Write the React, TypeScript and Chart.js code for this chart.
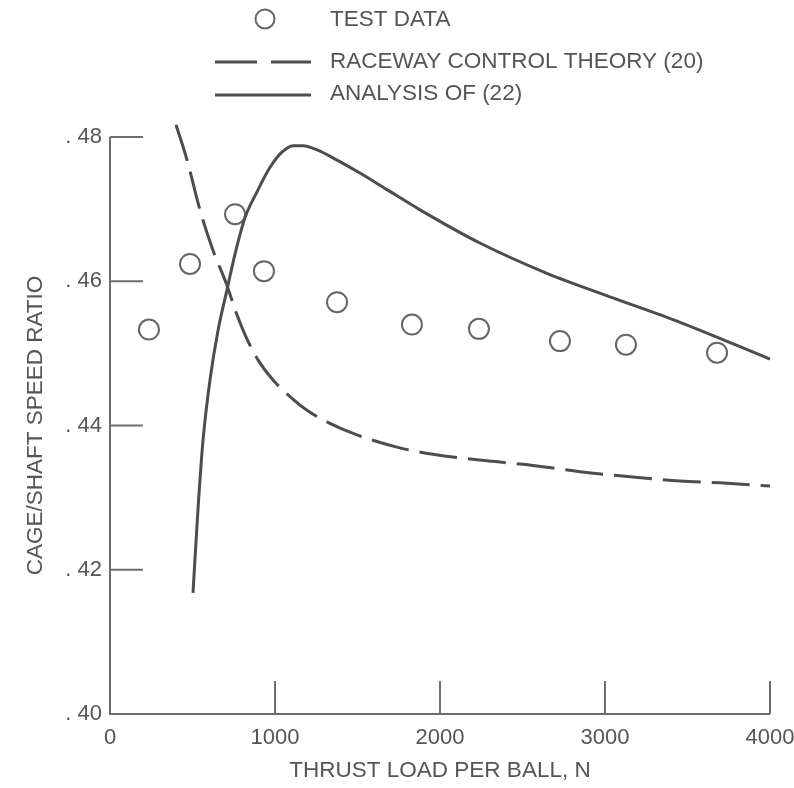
import React, { useEffect, useRef } from 'react';
import { Chart, registerables } from 'chart.js';

Chart.register(...registerables);

// ---- data ----
const testLoad = [236, 485, 758, 933, 1376, 1830, 2236, 2727, 3127, 3679];
const testRatio = [0.4533, 0.4624, 0.4693, 0.4614, 0.4571, 0.454, 0.4534, 0.4517, 0.4512, 0.4501];

const raceLoad = [400, 467, 545, 624, 703, 764, 824, 897, 988, 1091, 1194, 1333, 1485, 1739, 1958, 2285, 2588, 2848, 3152, 3455, 3739, 4000];
const raceRatio = [0.4817, 0.4768, 0.4699, 0.4643, 0.4598, 0.4557, 0.4523, 0.4491, 0.4463, 0.444, 0.4421, 0.4403, 0.4388, 0.437, 0.436, 0.4351, 0.4344, 0.4336, 0.4329, 0.4323, 0.432, 0.4316];

const anaLoad = [503, 533, 564, 606, 655, 709, 758, 818, 891, 970, 1042, 1109, 1170, 1255, 1376, 1515, 1679, 1879, 2242, 2648, 3048, 3455, 4000];
const anaRatio = [0.4168, 0.4283, 0.438, 0.4463, 0.4532, 0.4588, 0.4638, 0.4688, 0.4724, 0.4758, 0.4779, 0.4788, 0.4788, 0.4782, 0.4768, 0.475, 0.4727, 0.4699, 0.4653, 0.4611, 0.4577, 0.4543, 0.4492];

const xTicks = [0, 1000, 2000, 3000, 4000];
const yTicks = [0.4, 0.42, 0.44, 0.46, 0.48];

const legendLabels = ['TEST DATA', 'RACEWAY CONTROL THEORY (20)', 'ANALYSIS OF (22)'];
const xTitle = 'THRUST LOAD PER BALL, N';
const yTitle = 'CAGE/SHAFT SPEED RATIO';

const INK = '#4d4d4d';
const AXIS = '#6e6e6e';
const TEXT = '#555555';
const FONT = '"Liberation Sans", Arial, sans-serif';

const toPts = (xs: number[], ys: number[]) => xs.map((x, i) => ({ x, y: ys[i] }));

const paperPlugin = {
  id: 'paperAxes',
  beforeDatasetsDraw(chart: any) {
    const { ctx, chartArea, scales } = chart;
    const { left, bottom } = chartArea;
    const x = scales.x;
    const y = scales.y;
    ctx.save();
    ctx.strokeStyle = AXIS;
    ctx.lineWidth = 2;
    ctx.beginPath();
    ctx.moveTo(left, y.getPixelForValue(yTicks[yTicks.length - 1]));
    ctx.lineTo(left, bottom);
    ctx.lineTo(x.getPixelForValue(xTicks[xTicks.length - 1]), bottom);
    yTicks.slice(1).forEach((v) => {
      const py = y.getPixelForValue(v);
      ctx.moveTo(left, py);
      ctx.lineTo(left + 33, py);
    });
    xTicks.slice(1).forEach((v) => {
      const px = x.getPixelForValue(v);
      ctx.moveTo(px, bottom);
      ctx.lineTo(px, bottom - 33);
    });
    ctx.stroke();
    ctx.restore();
  },
  afterDraw(chart: any) {
    const { ctx } = chart;
    ctx.save();
    ctx.strokeStyle = '#666';
    ctx.lineWidth = 2;
    ctx.beginPath();
    ctx.arc(265, 19, 9.5, 0, Math.PI * 2);
    ctx.stroke();

    ctx.strokeStyle = INK;
    ctx.lineWidth = 3;
    ctx.setLineDash([42, 14]);
    ctx.beginPath();
    ctx.moveTo(215, 62);
    ctx.lineTo(311, 62);
    ctx.stroke();
    ctx.setLineDash([]);
    ctx.beginPath();
    ctx.moveTo(215, 95);
    ctx.lineTo(311, 95);
    ctx.stroke();

    ctx.fillStyle = TEXT;
    ctx.font = `22.5px ${FONT}`;
    ctx.textAlign = 'left';
    ctx.textBaseline = 'middle';
    ctx.fillText(legendLabels[0], 330, 20);
    ctx.fillText(legendLabels[1], 330, 62);
    ctx.fillText(legendLabels[2], 330, 94);
    ctx.restore();
  },
};

export default function App() {
  const ref = useRef<HTMLCanvasElement | null>(null);

  useEffect(() => {
    if (!ref.current) return;
    const chart = new Chart(ref.current, {
      type: 'line',
      data: {
        datasets: [
          {
            label: legendLabels[1],
            data: toPts(raceLoad, raceRatio),
            borderColor: INK,
            borderWidth: 3,
            borderDash: [38, 11],
            pointRadius: 0,
            cubicInterpolationMode: 'monotone',
            fill: false,
            clip: false,
          } as any,
          {
            label: legendLabels[2],
            data: toPts(anaLoad, anaRatio),
            borderColor: INK,
            borderWidth: 3,
            pointRadius: 0,
            cubicInterpolationMode: 'monotone',
            fill: false,
            clip: false,
          } as any,
          {
            label: legendLabels[0],
            data: toPts(testLoad, testRatio),
            showLine: false,
            pointRadius: 10,
            pointBorderWidth: 2,
            pointBorderColor: '#666',
            pointBackgroundColor: 'rgba(255,255,255,0)',
            pointStyle: 'circle',
          } as any,
        ],
      },
      options: {
        animation: false,
        responsive: false,
        devicePixelRatio: 1,
        layout: { padding: { top: 137, right: 24, bottom: 0, left: 0 } },
        plugins: {
          legend: { display: false },
          tooltip: { enabled: false },
        },
        scales: {
          x: {
            type: 'linear',
            min: 0,
            max: 4000,
            grid: { display: false, drawTicks: false },
            border: { display: false },
            afterBuildTicks: (s: any) => {
              s.ticks = xTicks.map((v) => ({ value: v }));
            },
            afterFit: (s: any) => {
              s.height = 74;
              s.paddingLeft = 0;
              s.paddingRight = 0;
            },
            ticks: {
              color: TEXT,
              font: { family: FONT, size: 22 },
              padding: 11,
              maxRotation: 0,
              callback: (v: any) => String(v),
            },
            title: {
              display: true,
              text: xTitle,
              color: TEXT,
              font: { family: FONT, size: 22.5 },
              padding: { top: 0, bottom: 4 },
            },
          },
          y: {
            type: 'linear',
            min: 0.4,
            max: 0.48,
            grid: { display: false, drawTicks: false },
            border: { display: false },
            afterBuildTicks: (s: any) => {
              s.ticks = yTicks.map((v) => ({ value: v }));
            },
            afterFit: (s: any) => {
              s.width = 110;
              s.paddingTop = 0;
              s.paddingBottom = 0;
            },
            ticks: {
              color: TEXT,
              font: { family: FONT, size: 22 },
              padding: 8,
              callback: (v: any) => '. ' + Math.round(Number(v) * 100),
            },
            title: {
              display: true,
              text: yTitle,
              color: TEXT,
              font: { family: FONT, size: 22.5 },
              padding: { top: 22, bottom: 0 },
            },
          },
        },
      } as any,
      plugins: [paperPlugin],
    });
    return () => chart.destroy();
  }, []);

  return (
    <div style={{ position: 'absolute', left: 0, top: 0, width: 794, height: 788, background: '#fff' }}>
      <canvas ref={ref} width={794} height={788} style={{ width: 794, height: 788, display: 'block' }} />
    </div>
  );
}
